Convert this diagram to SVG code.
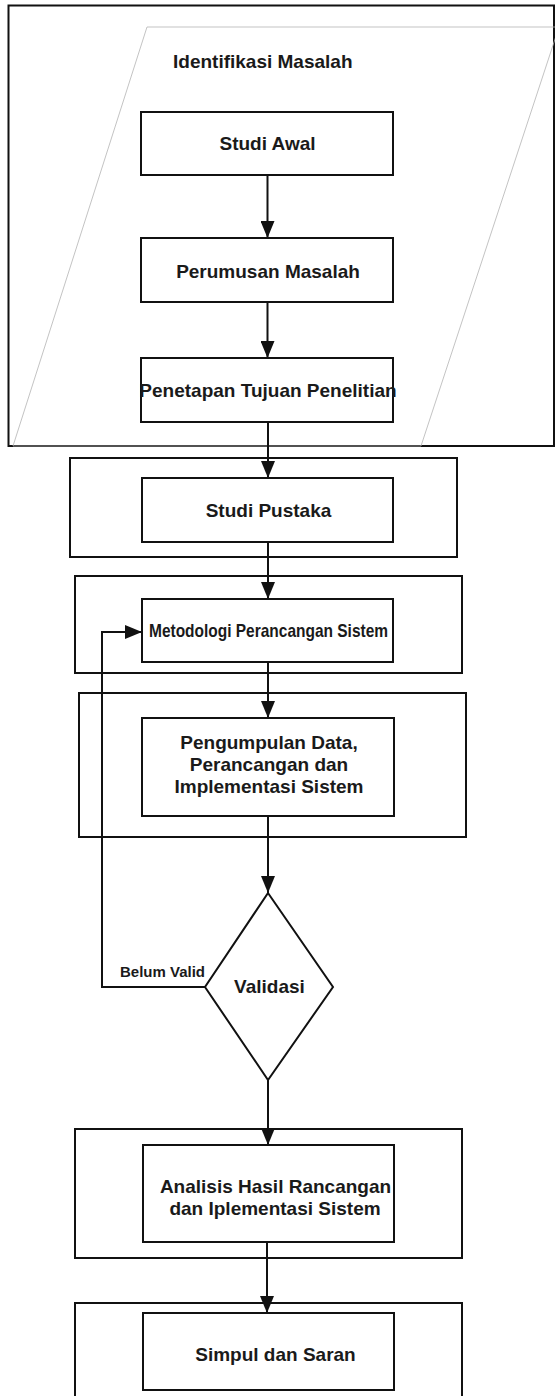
<svg xmlns="http://www.w3.org/2000/svg" width="555" height="1396" viewBox="0 0 555 1396">
  <style>
    .frame { fill: none; stroke: #111; stroke-width: 2; }
    .box { fill: #fff; stroke: #111; stroke-width: 2; }
    .para { fill: none; stroke: #b4b4b4; stroke-width: 0.8; }
    .lbl { font-family: "Liberation Sans", Arial, sans-serif; font-weight: bold; font-size: 19px; fill: #1a1a1a; text-anchor: middle; }
    .edge { fill: none; stroke: #111; stroke-width: 2; }
  </style>
  <defs>
    <marker id="arrow" markerWidth="17" markerHeight="14" refX="17" refY="7" orient="auto" markerUnits="userSpaceOnUse">
      <path d="M0,0 L17,7 L0,14 Z" fill="#111"/>
    </marker>
  </defs>
  <rect width="555" height="1396" fill="#fff"/>

  <!-- stage frames -->
  <g id="stage-identifikasi">
    <rect class="frame" x="8.5" y="5.5" width="545.5" height="440.5"/>
    <polygon class="para" points="147,27 559,27 421,446 13,446"/>
    <text class="lbl" x="173" y="68" style="text-anchor:start">Identifikasi Masalah</text>
  </g>
  <g id="stage-pustaka"><rect class="frame" x="70" y="458" width="387" height="99"/></g>
  <g id="stage-metodologi"><rect class="frame" x="75" y="576" width="387" height="97"/></g>
  <g id="stage-pengumpulan"><rect class="frame" x="79" y="693" width="387" height="144"/></g>
  <g id="stage-analisis"><rect class="frame" x="75" y="1129" width="387" height="129"/></g>
  <g id="stage-simpul"><rect class="frame" x="75" y="1303" width="387" height="110"/></g>

  <!-- connectors -->
  <g id="connectors">
    <line class="edge" x1="267.5" y1="175" x2="267.5" y2="238" marker-end="url(#arrow)"/>
    <line class="edge" x1="267.5" y1="302" x2="267.5" y2="358" marker-end="url(#arrow)"/>
    <line class="edge" x1="268" y1="422" x2="268" y2="478" marker-end="url(#arrow)"/>
    <line class="edge" x1="268" y1="542" x2="268" y2="599" marker-end="url(#arrow)"/>
    <line class="edge" x1="268" y1="662" x2="268" y2="718" marker-end="url(#arrow)"/>
    <line class="edge" x1="268" y1="816" x2="268" y2="893" marker-end="url(#arrow)"/>
    <line class="edge" x1="268" y1="1080" x2="268" y2="1145" marker-end="url(#arrow)"/>
    <line class="edge" x1="267" y1="1242" x2="267" y2="1313" marker-end="url(#arrow)"/>
    <polyline class="edge" points="205,987 102,987 102,632 142,632" marker-end="url(#arrow)"/>
    <text x="120" y="977" font-family="Liberation Sans, Arial, sans-serif" font-weight="bold" font-size="15" fill="#1a1a1a">Belum Valid</text>
  </g>

  <!-- process steps -->
  <g id="studi-awal">
    <rect class="box" x="141" y="112" width="252" height="63"/>
    <text class="lbl" x="267.5" y="150">Studi Awal</text>
  </g>
  <g id="perumusan-masalah">
    <rect class="box" x="141" y="238" width="252" height="64"/>
    <text class="lbl" x="268" y="278">Perumusan Masalah</text>
  </g>
  <g id="penetapan-tujuan">
    <rect class="box" x="141" y="358" width="252" height="64"/>
    <text class="lbl" x="268" y="397" font-size="18">Penetapan Tujuan Penelitian</text>
  </g>
  <g id="studi-pustaka">
    <rect class="box" x="142" y="478" width="251" height="64"/>
    <text class="lbl" x="268.5" y="517">Studi Pustaka</text>
  </g>
  <g id="metodologi">
    <rect class="box" x="142" y="599" width="251" height="63"/>
    <text class="lbl" x="268.5" y="637" font-size="18" textLength="239" lengthAdjust="spacingAndGlyphs">Metodologi Perancangan Sistem</text>
  </g>
  <g id="pengumpulan-data">
    <rect class="box" x="142" y="718" width="252" height="98"/>
    <text class="lbl" x="269" y="749">Pengumpulan Data,</text>
    <text class="lbl" x="269" y="771">Perancangan dan</text>
    <text class="lbl" x="269" y="793">Implementasi Sistem</text>
  </g>
  <g id="validasi">
    <polygon class="box" points="268,893 333,987 268,1080 205,987"/>
    <text class="lbl" x="269.5" y="993">Validasi</text>
  </g>
  <g id="analisis-hasil">
    <rect class="box" x="143" y="1145" width="251" height="97"/>
    <text class="lbl" x="275.5" y="1193">Analisis Hasil Rancangan</text>
    <text class="lbl" x="275" y="1215">dan Iplementasi Sistem</text>
  </g>
  <g id="simpul-saran">
    <rect class="box" x="143" y="1313" width="251" height="77"/>
    <text class="lbl" x="275.5" y="1361">Simpul dan Saran</text>
  </g>
</svg>
